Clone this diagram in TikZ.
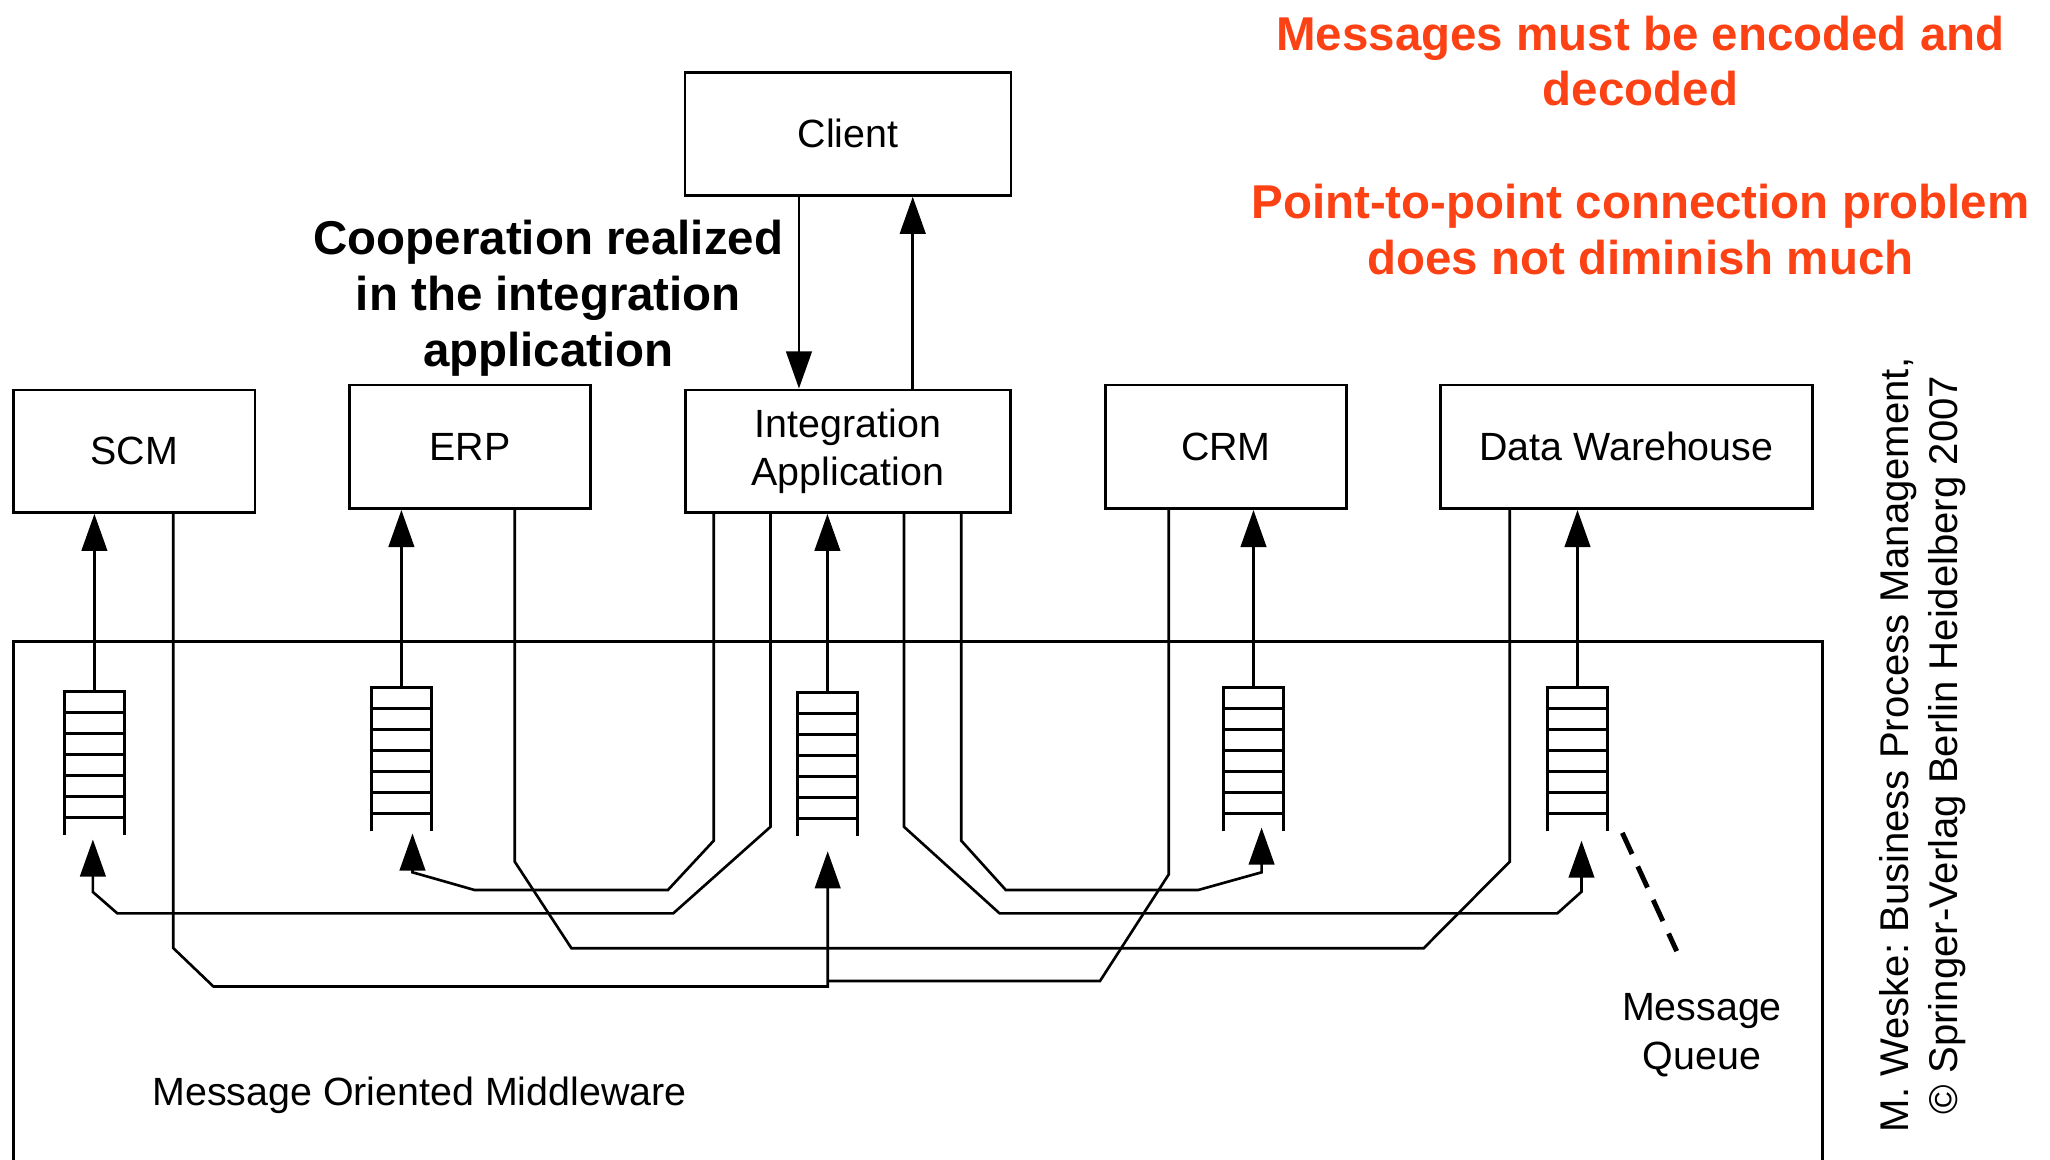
\documentclass[tikz,border=0pt]{standalone}
\usepackage{fontspec}
\setmainfont{Liberation Sans}
\usetikzlibrary{arrows.meta, calc, positioning}
\definecolor{noteorange}{RGB}{252,66,20}
\frenchspacing

\begin{document}
\begin{tikzpicture}[x=0.01cm, y=-0.01cm, line width=0.75pt,
  every node/.style={inner sep=0pt},
  sysbox/.style={draw, line width=0.8pt, align=center, font=\fontsize{11.2}{13.6}\selectfont},
  queuebox/.style={minimum width=0.57cm, minimum height=1.41cm},
  msgarrow/.style={-{Triangle[length=0.37cm, width=0.255cm]}},
  remark/.style={align=center, font=\fontsize{13.5}{15.9}\selectfont\bfseries}]
  \useasboundingbox (0,0) rectangle (2050,1160);

  % middleware, open at the bottom
  \draw (13.4,1160) -- (13.4,641.8) -- (1822.5,641.8) -- (1822.5,1160);

  \node[sysbox, minimum width=3.257cm, minimum height=1.23cm] (client) at (848,133.8) {Client};
  \node[sysbox, minimum width=2.416cm, minimum height=1.225cm] (scm) at (134.2,451.2) {SCM};
  \node[sysbox, minimum width=2.41cm, minimum height=1.235cm] (erp) at (470.1,446.8) {ERP};
  \node[sysbox, minimum width=3.254cm, minimum height=1.225cm] (int) at (848,451.2) {Integration\\Application};
  \node[sysbox, minimum width=2.41cm, minimum height=1.235cm] (crm) at (1225.9,446.8) {CRM};
  \node[sysbox, minimum width=3.714cm, minimum height=1.235cm] (dw) at (1626.3,446.8) {Data Warehouse};

  \node[queuebox] (qscm) at (94.4,763.5) {};
  \node[queuebox] (qerp) at (401.4,759.4) {};
  \node[queuebox] (qint) at (827.4,764.5) {};
  \node[queuebox] (qcrm) at (1253.5,759.4) {};
  \node[queuebox] (qdw) at (1577.5,759.4) {};

  \foreach \q/\s in {qscm/scm, qerp/erp, qint/int, qcrm/crm, qdw/dw} {
    \draw (\q.south west) -- (\q.north west) -- (\q.north east) -- (\q.south east);
    \foreach \r in {1,...,6}
      \draw ([yshift=-\r*0.21cm]\q.north west) -- ([yshift=-\r*0.21cm]\q.north east);
    \draw[msgarrow] (\q.north) -- (\q.north |- \s.south);
  }

  \draw[msgarrow] ([xshift=-0.49cm]client.south) -- ([xshift=-0.49cm]int.north);
  \draw[msgarrow] ([xshift=0.647cm]int.north) -- ([xshift=0.647cm]client.south);

  \coordinate (inscm) at (92.9,839.5);
  \coordinate (inerp) at (412.5,833.5);
  \coordinate (inint) at (827.7,851.3);
  \coordinate (incrm) at (1261.6,827.6);
  \coordinate (indw) at (1581.5,840.7);
  \coordinate (join) at (827.7,981);

  % integration application feeds the queues
  \draw[msgarrow] (770.5,0 |- int.south) -- (770.5,826.8) -- (673.2,913.4) -- (117.4,913.4) -- (92.9,892) -- (inscm);
  \draw[msgarrow] (713.8,0 |- int.south) -- (713.8,840.6) -- (667.9,890) -- (474.6,890) -- (412.5,872.3) -- (inerp);
  \draw[msgarrow] (961.2,0 |- int.south) -- (961.2,840.6) -- (1005.8,890) -- (1198.2,890) -- (1261.6,872.3) -- (incrm);
  \draw[msgarrow] (904,0 |- int.south) -- (904,826.8) -- (999.6,913.4) -- (1557.3,913.4) -- (1581.5,891.7) -- (indw);

  % point-to-point links
  \draw (514.7,0 |- erp.south) -- (514.7,861.6) -- (571.4,948.2) -- (1423.7,948.2) -- (1509.8,861.6) -- (1509.8,0 |- dw.south);
  \draw[msgarrow] (173.2,0 |- scm.south) -- (173.2,948) -- (213.4,986.5) -- (827.7,986.5) -- (inint);
  \draw (1168.8,0 |- crm.south) -- (1168.8,874.3) -- (1100,981) -- (join);

  \node[align=center, font=\fontsize{11.2}{13.8}\selectfont] (mq) at (1702,1035) {Message\\Queue};
  \draw[line width=1.4pt, dash pattern=on 6.6pt off 3.9pt] ([xshift=0.15cm, yshift=-0.016cm]qdw.south east) -- ([xshift=-0.253cm, yshift=0.41cm]mq.north);
  \node[anchor=base west, font=\fontsize{11.2}{13.4}\selectfont] (mom) at (151,1105) {Message Oriented Middleware};

  \node[remark] (coop) at (548.4,298.6) {Cooperation realized\\in the integration\\application};
  \node[remark, text=noteorange] (encode) at (1640.4,61) {Messages must be encoded and\\decoded};
  \node[remark, text=noteorange] (ptp) at (1640.4,229.3) {Point-to-point connection problem\\does not diminish much};

  \node[rotate=90, align=center, font=\fontsize{11.4}{13.9}\selectfont] (source) at (1922.6,745) {M. Weske: Business Process Management,\\© Springer-Verlag Berlin Heidelberg 2007};
\end{tikzpicture}
\end{document}
